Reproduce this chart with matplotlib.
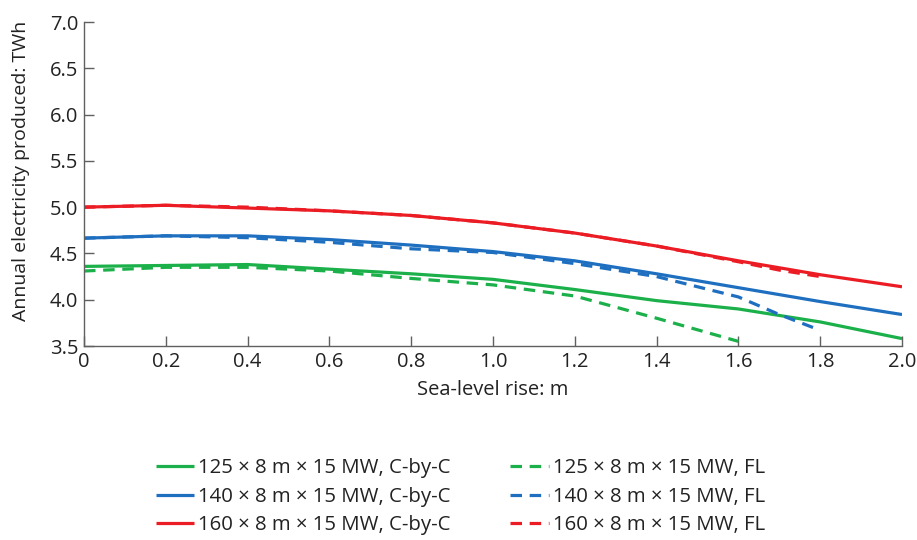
import matplotlib
matplotlib.use("Agg")
import matplotlib.pyplot as plt

plt.rcParams['font.family'] = ['Open Sans', 'DejaVu Sans']

x_cbc = [0.0, 0.2, 0.4, 0.6, 0.8, 1.0, 1.2, 1.4, 1.6, 1.8, 2.0]
green_cbc = [4.36, 4.37, 4.38, 4.33, 4.28, 4.22, 4.11, 3.99, 3.90, 3.76, 3.58]
blue_cbc = [4.665, 4.69, 4.69, 4.65, 4.59, 4.52, 4.42, 4.28, 4.13, 3.98, 3.84]
red_cbc = [5.00, 5.02, 4.99, 4.96, 4.91, 4.83, 4.72, 4.58, 4.42, 4.27, 4.14]

x_green_fl = [0.0, 0.2, 0.4, 0.6, 0.8, 1.0, 1.2, 1.4, 1.6]
green_fl = [4.31, 4.35, 4.35, 4.31, 4.23, 4.16, 4.04, 3.80, 3.55]
x_blue_fl = [0.0, 0.2, 0.4, 0.6, 0.8, 1.0, 1.2, 1.4, 1.6, 1.7, 1.8]
blue_fl = [4.665, 4.69, 4.67, 4.62, 4.55, 4.51, 4.39, 4.25, 4.03, 3.84, 3.67]
x_red_fl = [0.0, 0.2, 0.4, 0.6, 0.8, 1.0, 1.2, 1.4, 1.6, 1.7, 1.8]
red_fl = [5.00, 5.02, 5.00, 4.96, 4.91, 4.83, 4.72, 4.58, 4.41, 4.32, 4.25]

labels_cbc = ["125 × 8 m × 15 MW, C-by-C", "140 × 8 m × 15 MW, C-by-C", "160 × 8 m × 15 MW, C-by-C"]
labels_fl = ["125 × 8 m × 15 MW, FL", "140 × 8 m × 15 MW, FL", "160 × 8 m × 15 MW, FL"]

GREEN = "#1bb04a"
BLUE = "#1f6fc0"
RED = "#ec1c24"
colors = [GREEN, BLUE, RED]

FS = 14.5
fig = plt.figure(figsize=(9.17, 5.4), dpi=100)
ax = fig.add_axes([84/917, 1-346/540, (902-84)/917, (346-22)/540])

lw = 2.3
dash = (3.6, 2.4)
handles = []
for ys, c, lab in zip([green_cbc, blue_cbc, red_cbc], colors, labels_cbc):
    ln, = ax.plot(x_cbc, ys, color=c, lw=lw, label=lab, solid_capstyle='butt')
    handles.append(ln)
for xs, ys, c, lab in zip([x_green_fl, x_blue_fl, x_red_fl], [green_fl, blue_fl, red_fl], colors, labels_fl):
    ln, = ax.plot(xs, ys, color=c, lw=lw, label=lab, dashes=dash)
    handles.append(ln)

ax.set_xlim(0, 2.0)
ax.set_ylim(3.5, 7.0)
ax.set_xticks([0, 0.2, 0.4, 0.6, 0.8, 1.0, 1.2, 1.4, 1.6, 1.8, 2.0])
ax.set_xticklabels(["0", "0.2", "0.4", "0.6", "0.8", "1.0", "1.2", "1.4", "1.6", "1.8", "2.0"])
ax.set_yticks([3.5, 4.0, 4.5, 5.0, 5.5, 6.0, 6.5, 7.0])
ax.set_yticklabels(["3.5", "4.0", "4.5", "5.0", "5.5", "6.0", "6.5", "7.0"])
for s in ['top', 'right']:
    ax.spines[s].set_visible(False)
for s in ['left', 'bottom']:
    ax.spines[s].set_color("#606060")
    ax.spines[s].set_linewidth(1.0)
ax.tick_params(direction='in', length=7, width=1.0, color="#606060",
               labelsize=FS, labelcolor="#222222", pad=4)
ax.set_xlabel("Sea-level rise: m", fontsize=FS, color="#222222", labelpad=6)
ax.set_ylabel("Annual electricity produced: TWh", fontsize=14, color="#222222")
ax.yaxis.set_label_coords(-0.066, 0.54)

fig.legend(handles=handles, loc='center', bbox_to_anchor=(0.502, 0.08), ncol=2,
           frameon=False, fontsize=14.7, handlelength=1.9, handletextpad=0.2,
           columnspacing=2.9, labelspacing=0.42, labelcolor="#222222",
           borderaxespad=0, borderpad=0)

fig.savefig("out.png", dpi=100)
